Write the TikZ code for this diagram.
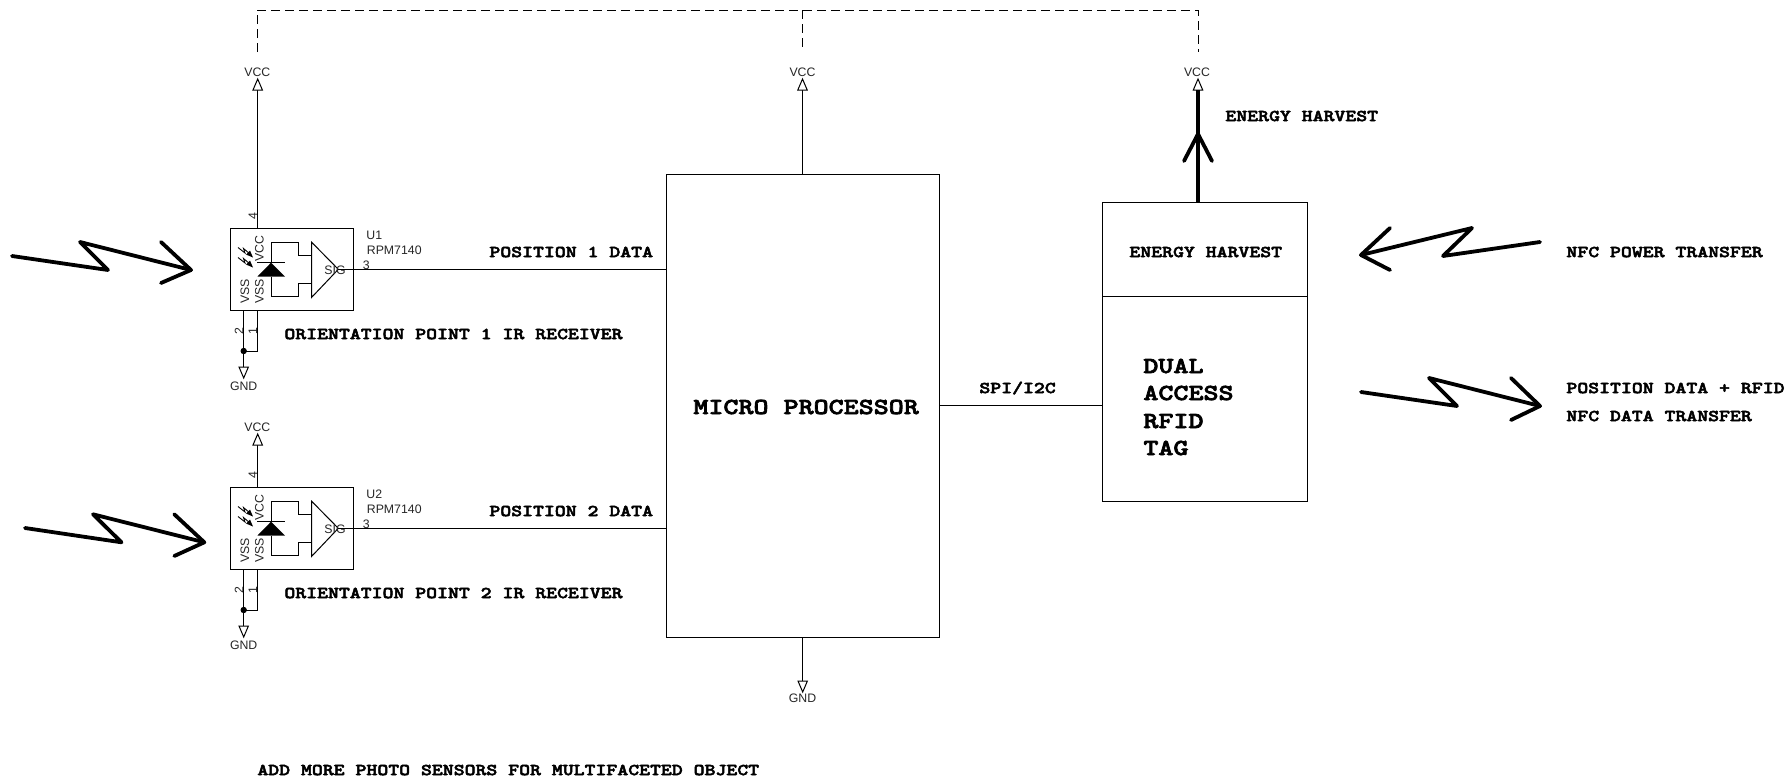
\documentclass[tikz,border=0pt]{standalone}
\usepackage{fontspec}
\setmainfont{Liberation Sans}
\newfontfamily\courb[FakeStretch=1.25,BoldFeatures={FakeBold=3}]{Latin Modern Mono Light}
\tikzset{
  wire/.style={line width=0.5pt, black, line join=miter},
  dashwire/.style={line width=0.5pt, black, dash pattern=on 4.5pt off 2.5pt},
  zap/.style={line width=1.9pt, line cap=round, line join=round},
  port/.style={line width=0.5pt, fill=white, draw=black, line join=miter},
  boxn/.style={draw, line width=0.5pt, inner sep=0pt, fill=white},
  sch/.style={font=\fontsize{6.15}{7}\selectfont, inner sep=0pt, text=black!85},
  lab/.style={font=\courb\bfseries\fontsize{8.31}{10}\selectfont, inner sep=0pt, anchor=west, text height=5.1pt, text depth=0pt},
  biglab/.style={font=\courb\bfseries\fontsize{11.45}{14}\selectfont, inner sep=0pt, anchor=west, text height=7pt, text depth=0pt},
}
% power port pointing up, tip at (#1,#2)
\newcommand{\vccport}[2]{\draw[port] (#1,#2) -- (#1+4.7,#2+11) -- (#1-4.7,#2+11) -- cycle;}
\newcommand{\gndport}[2]{\draw[port] (#1,#2) -- (#1+4.7,#2-11) -- (#1-4.7,#2-11) -- cycle;}
% sensor symbol: #1 name, #2 vertical offset, #3 U label
\newcommand{\sensorsym}[3]{%
\begin{scope}[shift={(0,#2)}]
  \node[boxn, minimum width=61.5pt, minimum height=41pt] (#1) at (291.5,269) {};
  % diode
  \draw[wire] (257.3,262.7) -- (285,262.7);
  \fill (271,262.7) -- (285,276.7) -- (257.3,276.7) -- cycle;
  \draw[wire] (271,262.7) -- (271,242) -- (298.3,242) -- (298.3,255.7) -- (311.7,255.7);
  \draw[wire] (271,276.7) -- (271,296.7) -- (298.3,296.7) -- (298.3,283.3) -- (311.7,283.3);
  \draw[wire] (311.7,242.3) -- (311.7,297.3) -- (338.3,269.3) -- cycle;
  \coordinate (#1tip) at (338.3,269.3);
  % photo arrows
  \draw[line width=0.45pt] (238,247.5) -- (245,253) -- (243.5,248.5) -- (250,254);
  \fill (253,257.5) -- (246,254.5) -- (250,250.5) -- cycle;
  \draw[line width=0.45pt] (238,257.5) -- (245,263) -- (243.5,258.5) -- (250,264);
  \fill (253,267.5) -- (246,264.5) -- (250,260.5) -- cycle;
  % pin texts
  \node[sch] (#1sig) at (335,270.5) {SIG};
  \node[sch, rotate=90] (#1vcc) at (259.5,249) {VCC};
  \node[sch, rotate=90] (#1vssa) at (245,291.5) {VSS};
  \node[sch, rotate=90] (#1vssb) at (259.5,291.5) {VSS};
  \node[sch, rotate=90] (#1pfour) at (253,216) {4};
  \node[sch, rotate=90] (#1ptwo) at (239,331) {2};
  \node[sch, rotate=90] (#1pone) at (253,331) {1};
  \node[sch, anchor=west] (#1pthree) at (362.5,265) {3};
  \node[sch, anchor=west] (#1ref) at (366,235.5) {#3};
  \node[sch, anchor=west] (#1part) at (366.5,250) {RPM7140};
  % ground pins
  \coordinate (#1pa) at (243.7,310);
  \coordinate (#1pb) at (257.7,310);
  \coordinate (#1j) at (243.7,351);
  \coordinate (#1g) at (243.7,367);
  \draw[wire] (#1pb) -- (#1pb |- #1j) -- (#1j);
  \draw[wire] (#1pa) -- (#1j) -- (#1g);
  \fill (#1j) circle (1.6pt);
  \gndport{243.7}{378}
  \node[sch] (#1gnd) at (243.7,386) {GND};
\end{scope}}
\begin{document}
\begin{tikzpicture}[x=0.5pt,y=-0.5pt]
\useasboundingbox (0,0) rectangle (1788,778);
\fill[white] (0,0) rectangle (1788,778);

% main blocks
\node[boxn, minimum width=136.35pt, minimum height=231.6pt] (mp) at (802.65,406.1) {};
\node[boxn, minimum width=102.2pt, minimum height=47.25pt] (eh) at (1204.9,249.25) {};
\node[boxn, minimum width=102.2pt, minimum height=102.25pt] (tag) at (1204.9,398.75) {};

\sensorsym{uone}{0}{U1}
\sensorsym{utwo}{259}{U2}

% power ports
\node[sch] (vcca) at (257.3,72) {VCC};
\node[sch] (vccb) at (802.5,72) {VCC};
\node[sch] (vccc) at (1197,72) {VCC};
\node[sch] (vccd) at (257.3,427) {VCC};
\node[sch] (gndm) at (802.5,698.5) {GND};
\coordinate (pa) at (257.7,90);
\coordinate (pb) at (802.5,90);
\coordinate (pc) at (1198,90);
\coordinate (pd) at (257.7,445);
\coordinate (pg) at (802.7,681);

\draw[wire] (pa) -- (pa |- uone.north);
\draw[wire] (pd) -- (pd |- utwo.north);
\draw[wire] (pb) -- (pb |- mp.north);
\draw[wire] (pg) -- (pg |- mp.south);
\vccport{257.7}{79}
\vccport{802.5}{79}
\vccport{1198}{79}
\vccport{257.7}{434}
\gndport{802.7}{692}

% signals
\draw[wire] (uonetip) -- (uonetip -| mp.west);
\draw[wire] (utwotip) -- (utwotip -| mp.west);
\coordinate (spi) at (939,405.7);
\draw[wire] (spi) -- (spi -| tag.west);

% dashed supply link
\coordinate (da) at (257.3,52);
\coordinate (db) at (802,52);
\coordinate (dc) at (1198,52);
\coordinate (ta) at (257.3,10);
\coordinate (tb) at (802,10);
\coordinate (tc) at (1198,10);
\draw[dashwire] (da) -- (ta) -- (tc) -- (dc);
\draw[dashwire] (tb) -- (db);

% energy harvest arrow
\draw[line width=2.4pt] (pc) -- (pc |- eh.north);
\coordinate (ehtip) at (1198,134);
\draw[line width=1.9pt, line cap=round, line join=round] (1184,161) -- (ehtip) -- (1212,161);

% wireless arrows
\draw[zap] (12,256) -- (108,270) -- (80,242) -- (191,270);
\draw[zap] (161,242) -- (191,270) -- (161,283);
\draw[zap] (25,528) -- (121.5,542.3) -- (93,514.3) -- (204.3,542.3);
\draw[zap] (174.3,514.3) -- (204.3,542.3) -- (174.3,556);
\draw[zap] (1540,242) -- (1443,256) -- (1472,228) -- (1361,255);
\draw[zap] (1390,228) -- (1361,255) -- (1390,270);
\draw[zap] (1361,392) -- (1457,406) -- (1429,378) -- (1540,406);
\draw[zap] (1511,378) -- (1540,406) -- (1511,420);

% labels
\node[lab] (la) at (489,252) {POSITION 1 DATA};
\node[lab] (lb) at (489,511) {POSITION 2 DATA};
\node[lab] (lc) at (284,334) {ORIENTATION POINT 1 IR RECEIVER};
\node[lab] (ld) at (284,593) {ORIENTATION POINT 2 IR RECEIVER};
\node[lab] (le) at (979,388) {SPI/I2C};
\node[lab] (lf) at (1129,252) {ENERGY HARVEST};
\node[lab] (lg) at (1225,116) {ENERGY HARVEST};
\node[lab] (lh) at (1566,252) {NFC POWER TRANSFER};
\node[lab] (li) at (1566,388) {POSITION DATA + RFID};
\node[lab] (lj) at (1566,416) {NFC DATA TRANSFER};
\node[lab] (lk) at (257,770) {ADD MORE PHOTO SENSORS FOR MULTIFACETED OBJECT};
\node[biglab] (ma) at (693,407) {MICRO PROCESSOR};
\node[biglab] (mb) at (1143,366) {DUAL};
\node[biglab] (mc) at (1143,393) {ACCESS};
\node[biglab] (md) at (1143,421) {RFID};
\node[biglab] (me) at (1143,448) {TAG};
\end{tikzpicture}
\end{document}
